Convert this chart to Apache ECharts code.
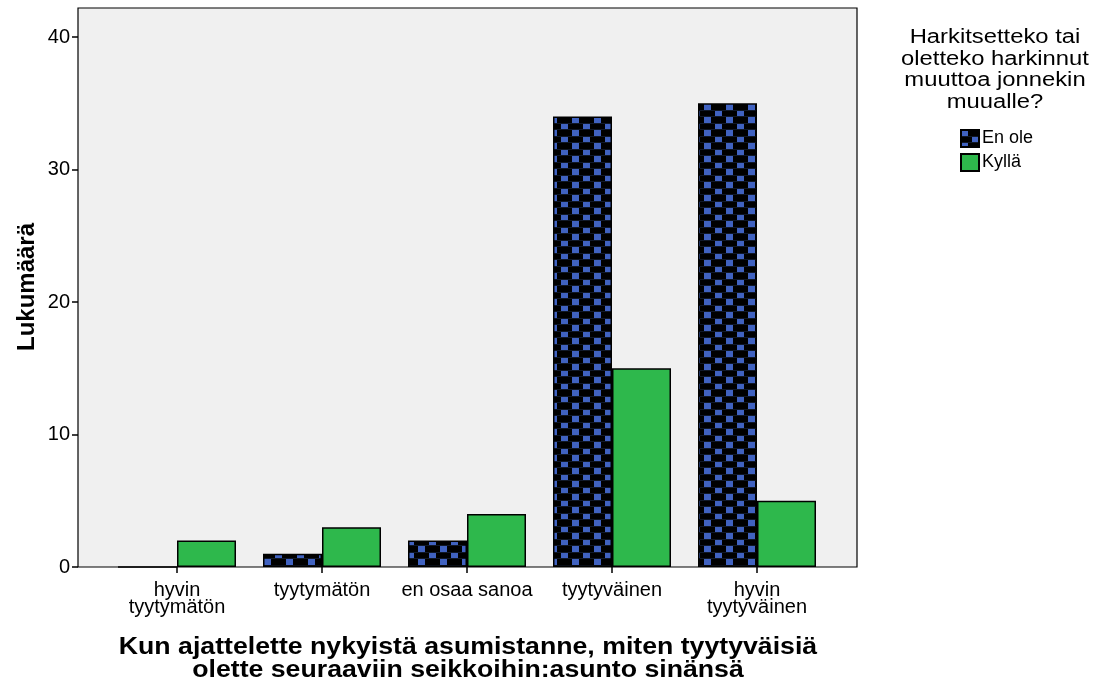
<!DOCTYPE html>
<html>
<head>
<meta charset="utf-8">
<script src="https://cdn.jsdelivr.net/npm/echarts@6/dist/echarts.min.js"></script>
<style>html,body{margin:0;padding:0;background:#fff}#c{width:1093px;height:686px}</style>
</head>
<body>
<div id="c"></div>
<script>
const categories = ['hyvin\ntyytymätön', 'tyytymätön', 'en osaa sanoa', 'tyytyväinen', 'hyvin\ntyytyväinen'];
const enOle = [0, 1, 2, 34, 35];
const kylla = [2, 3, 4, 15, 5];
const yTicks = [0, 10, 20, 30, 40];
const seriesNames = ['En ole', 'Kyllä'];
const legendTitle = 'Harkitsetteko tai\noletteko harkinnut\nmuuttoa jonnekin\nmuualle?';
const xTitle = 'Kun ajattelette nykyistä asumistanne, miten tyytyväisiä\nolette seuraaviin seikkoihin:asunto sinänsä';
const yTitle = 'Lukumäärä';

const FONT = '"Liberation Sans", Arial, sans-serif';
const BLUE = '#4062c0';
const GREEN = '#2eb84c';

function makePattern() {
  const c = document.createElement('canvas');
  c.width = 22; c.height = 13;
  const g = c.getContext('2d');
  g.fillStyle = '#000'; g.fillRect(0, 0, 22, 13);
  g.fillStyle = '#101828'; g.fillRect(0, 6, 22, 1); g.fillRect(0, 12, 22, 1);
  g.fillStyle = BLUE;
  g.fillRect(0, 0, 7, 6);
  g.fillRect(11, 7, 7, 5);
  return c;
}
const pattern = { image: makePattern(), repeat: 'repeat' };

const chart = echarts.init(document.getElementById('c'), null, { renderer: 'canvas' });
const yMax = 42.2;
chart.setOption({
  animation: false,
  textStyle: { fontFamily: FONT },
  grid: [
    { left: 78, top: 8, width: 779, height: 559, show: true, backgroundColor: '#f0f0f0', borderColor: '#000', borderWidth: 1.2 },
    { left: 104.5, top: 8, width: 725, height: 559 }
  ],
  xAxis: [
    { gridIndex: 0, type: 'value', show: false, min: 0, max: 1 },
    { gridIndex: 1, type: 'category', data: categories,
      axisLine: { show: false },
      axisTick: { show: true, alignWithLabel: true, length: 6, lineStyle: { color: '#000', width: 1.5 } },
      axisLabel: { color: '#000', fontSize: 20, lineHeight: 17, margin: 15, fontFamily: FONT, interval: 0 } }
  ],
  yAxis: [
    { gridIndex: 0, type: 'value', min: 0, max: yMax, interval: 10,
      axisLine: { show: false },
      axisTick: { show: true, length: 6, inside: false, customValues: yTicks, lineStyle: { color: '#000', width: 1.5 } },
      axisLabel: { color: '#000', fontSize: 20, margin: 8, fontFamily: FONT,
        customValues: yTicks, formatter: v => String(v) },
      splitLine: { show: false } },
    { gridIndex: 1, type: 'value', min: 0, max: yMax, show: false, splitLine: { show: false } }
  ],
  legend: {
    orient: 'vertical', left: 955, top: 124, itemWidth: 18, itemHeight: 17, itemGap: 5,
    textStyle: { color: '#000', fontSize: 18, fontFamily: FONT, padding: [0, 0, 0, -2] },
    data: seriesNames.map(n => ({ name: n, icon: 'rect' }))
  },
  series: [
    { name: seriesNames[0], type: 'bar', xAxisIndex: 1, yAxisIndex: 1, data: enOle,
      barWidth: 59, barGap: '0%',
      itemStyle: { color: pattern, borderColor: '#000', borderWidth: 1.5 } },
    { name: seriesNames[1], type: 'bar', xAxisIndex: 1, yAxisIndex: 1, data: kylla,
      barWidth: 59, barGap: '0%',
      itemStyle: { color: GREEN, borderColor: '#000', borderWidth: 1.5 } }
  ],
  graphic: [
    { type: 'text', x: 995, y: 27, scaleX: 1.19,
      style: { text: legendTitle, font: '20px ' + FONT, fill: '#000', align: 'center', verticalAlign: 'top', lineHeight: 21.5 } },
    { type: 'text', x: 468, y: 636, scaleX: 1.16,
      style: { text: xTitle, font: 'bold 23px ' + FONT, fill: '#000', align: 'center', verticalAlign: 'top', lineHeight: 23 } },
    { type: 'text', x: 27, y: 287, rotation: Math.PI / 2,
      style: { text: yTitle, font: 'bold 24px ' + FONT, fill: '#000', align: 'center', verticalAlign: 'middle' } }
  ]
});
</script>
</body>
</html>
